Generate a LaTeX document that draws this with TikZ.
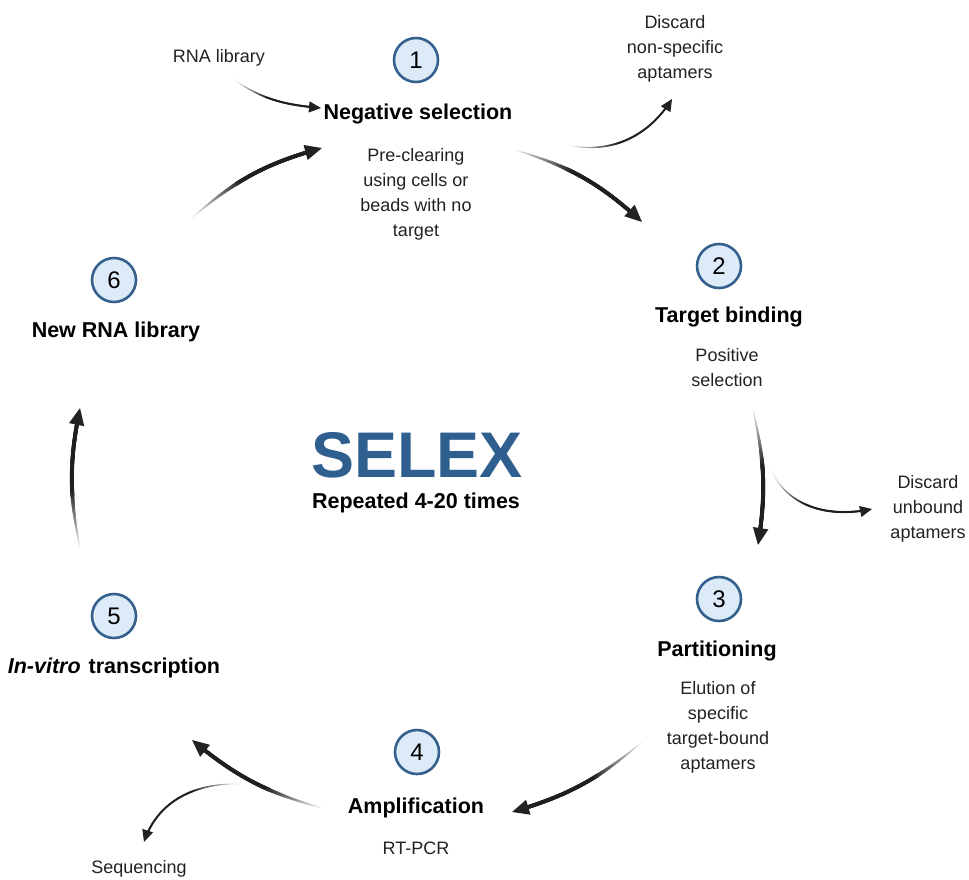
\documentclass[tikz,border=0pt]{standalone}
\usepackage{fontspec}
\setmainfont{Liberation Sans}
\usetikzlibrary{decorations.markings,arrows.meta}
\definecolor{selexblue}{HTML}{2F5F8E}
\definecolor{circfill}{HTML}{DDEBF8}
\definecolor{circline}{HTML}{33608C}
\definecolor{inkdark}{HTML}{222222}
\tikzset{
  txt/.style={inner sep=0pt, align=center, text=inkdark, font=\fontsize{18}{25}\selectfont},
  head/.style={inner sep=0pt, align=center, text=black, font=\fontsize{21.5}{25}\selectfont\bfseries},
  numcirc/.style={circle, draw=circline, fill=circfill, line width=2.6pt, minimum size=44pt, inner sep=0pt, font=\fontsize{24}{24}\selectfont, text=black},
  mainarrow/.style={
    postaction={decorate, decoration={markings,
    mark=between positions 0 and -8pt step 0.5pt with {%
      \pgfmathsetmacro\fr{\pgfkeysvalueof{/pgf/decoration/mark info/distance from start}/\pgfdecoratedpathlength}%
      \pgfmathsetmacro\pc{min(88,3+\fr*200)}%
      \pgfmathsetmacro\rr{min(2.0,0.5+\fr*4)}%
      \fill[black!\pc!white] (0,0) circle[radius=\rr pt];}}},
    postaction={draw=inkdark, line width=2pt, dash pattern=on 0pt off 5000pt, dash phase=1pt,
      -{Triangle[length=17pt,width=15pt]}}},
  sidearrow/.style={
    postaction={decorate, decoration={markings,
    mark=between positions 0 and -5pt step 0.5pt with {%
      \pgfmathsetmacro\fr{\pgfkeysvalueof{/pgf/decoration/mark info/distance from start}/\pgfdecoratedpathlength}%
      \pgfmathsetmacro\pc{min(88,2+\fr*200)}%
      \pgfmathsetmacro\rr{min(1.1,0.25+\fr*2)}%
      \fill[black!\pc!white] (0,0) circle[radius=\rr pt];}}},
    postaction={draw=inkdark, line width=1pt, dash pattern=on 0pt off 5000pt, dash phase=1pt,
      -{Triangle[length=12pt,width=11pt]}}}
}
\begin{document}
\begin{tikzpicture}[x=1pt,y=1pt]
\useasboundingbox[fill=white] (0,0) rectangle (969,-879);

% step circles
\node[numcirc] (c1) at (416,-60) {1};
\node[numcirc] (c2) at (719,-266) {2};
\node[numcirc] (c3) at (719,-599) {3};
\node[numcirc] (c4) at (417,-752) {4};
\node[numcirc] (c5) at (114,-616) {5};
\node[numcirc] (c6) at (114,-280) {6};

% headings
\node[head] (h1) at (418,-114) {Negative selection};
\node[head] (h2) at (729,-317) {Target binding};
\node[head] (h3) at (717,-651) {Partitioning};
\node[head] (h4) at (416,-808) {Amplification};
\node[head] (h5) at (114,-668) {\textit{In-vitro}\ \hspace{2pt}transcription};
\node[head] (h6) at (116,-332) {New RNA library};

% descriptions
\node[txt] (d1) at (416,-194) {Pre-clearing\\using cells or\\beads with no\\target};
\node[txt] (d2) at (727,-367.5) {Positive\\selection};
\node[txt] (d3) at (718,-727) {Elution of\\specific\\target-bound\\aptamers};
\node[txt] (d4) at (416,-848) {RT-PCR};

% side labels
\node[txt] (rna) at (219,-58) {RNA library};
\node[txt] (disc1) at (675,-49) {Discard\\non-specific\\aptamers};
\node[txt] (disc2) at (928,-508.5) {Discard\\unbound\\aptamers};
\node[txt] (seq) at (139,-869) {Sequencing};

% centre
\node[inner sep=0pt, text=selexblue, font=\fontsize{64.5}{64.5}\selectfont\bfseries] (selex) at (417,-455) {SELEX};
\node[head] (rep) at (416,-503) {Repeated 4-20 times};

% arrow end points
\coordinate (a1s) at (515,-150); \coordinate (a1e) at (642,-222);
\coordinate (a2s) at (753,-410); \coordinate (a2e) at (758,-545);
\coordinate (a3s) at (642,-742); \coordinate (a3e) at (512,-812);
\coordinate (a4s) at (322,-808); \coordinate (a4e) at (192,-740);
\coordinate (a5s) at (80,-548);  \coordinate (a5e) at (80,-408);
\coordinate (a6s) at (192,-218); \coordinate (a6e) at (322,-148);

\coordinate (rs) at (233,-79);  \coordinate (re) at (321,-108);
\coordinate (ns) at (567,-145); \coordinate (ne) at (672,-99);
\coordinate (us) at (771,-470); \coordinate (ue) at (872,-509);
\coordinate (ss) at (241,-784); \coordinate (se) at (144,-842);

% main cycle arrows
\path[mainarrow] (a1s) to[bend left=13] (a1e);
\path[mainarrow] (a2s) to[bend left=11] (a2e);
\path[mainarrow] (a3s) to[bend left=12] (a3e);
\path[mainarrow] (a4s) to[bend left=12] (a4e);
\path[mainarrow] (a5s) to[bend left=11.5] (a5e);
\path[mainarrow] (a6s) to[bend left=13] (a6e);

% side arrows
\path[sidearrow] (rs) to[out=-35,in=175] (re);
\path[sidearrow] (ns) to[out=-12,in=238] (ne);
\path[sidearrow] (us) to[out=-65,in=192] (ue);
\path[sidearrow] (ss) to[out=178,in=72] (se);
\end{tikzpicture}
\end{document}
